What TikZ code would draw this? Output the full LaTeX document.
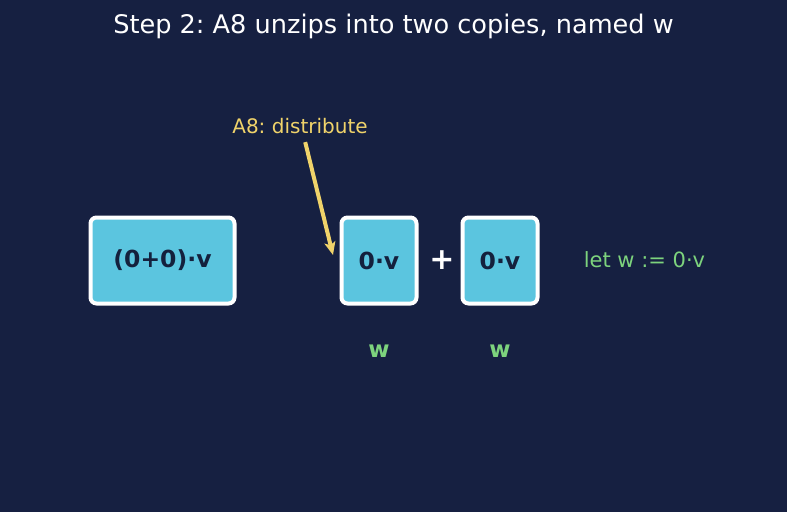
\documentclass[tikz,border=0pt]{standalone}
\usepackage{fontspec}
\setmainfont{DejaVu Sans}
\frenchspacing
\usetikzlibrary{arrows.meta,positioning}
\definecolor{bgnavy}{HTML}{162041}
\definecolor{skyfill}{HTML}{5BC5DF}
\definecolor{inknavy}{HTML}{14213D}
\definecolor{leafgreen}{HTML}{7DD37D}
\definecolor{sand}{HTML}{F0D36A}
\tikzset{
  termbox/.style={draw=white,line width=4pt,fill=skyfill,rounded corners=6pt,
    text=inknavy,font=\fontsize{23.5}{28}\selectfont\bfseries,inner sep=0pt},
  namelbl/.style={text=leafgreen,font=\fontsize{23}{27}\selectfont\bfseries},
}

\begin{document}
\begin{tikzpicture}[x=1pt,y=-1pt]
\fill[bgnavy] (0,0) rectangle (787,512);
\useasboundingbox (0,0) rectangle (787,512);
\node[text=white,font=\fontsize{25.6}{30}\selectfont] (title) at (393.5,26) {Step 2: A8 unzips into two copies, named w};
\node[termbox,minimum width=144pt,minimum height=86pt] (lhs) at (162.5,260.5) {(0+0)·v};
\node[termbox,minimum width=75pt,minimum height=86pt] (left) at (379,260.5) {0·v};
\node[termbox,minimum width=75pt,minimum height=86pt] (right) at (500,260.5) {0·v};
\node[text=white,font=\fontsize{30}{34}\selectfont\bfseries] (plus) at (442,260) {+};
\node[namelbl] (wleft) at (379,351) {w};
\node[namelbl] (wright) at (500,351) {w};
\node[text=leafgreen,font=\fontsize{21}{25}\selectfont] (letw) at (644.5,260) {let w := 0·v};
\node[text=sand,font=\fontsize{20}{24}\selectfont] (rule) at (300,126) {A8: distribute};
\coordinate (tip) at (333,255);
\draw[-{Stealth[length=13pt,width=11pt,inset=3pt]},sand,line width=4pt,shorten <=5pt] (rule.south) ++(4,0) -- (tip);
\end{tikzpicture}
\end{document}
